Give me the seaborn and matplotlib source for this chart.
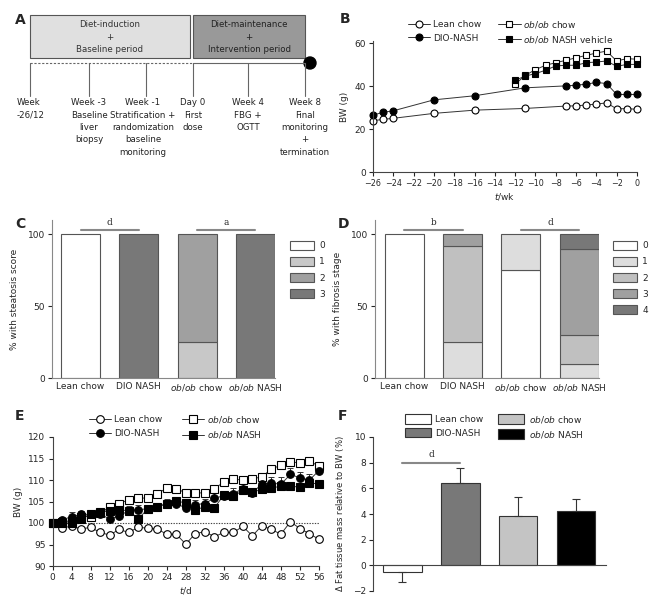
import numpy as np
import pandas as pd
import seaborn as sns
import matplotlib.pyplot as plt
from matplotlib.patches import Rectangle, Circle, Patch
from matplotlib.lines import Line2D

# ---- panel B: body weight during diet induction (g) ----
wk_all = [-26, -25, -24, -20, -16, -11, -7, -6, -5, -4, -3, -2, -1, 0]
bw_lean_b = [23.9, 24.5, 25.0, 27.3, 28.8, 29.6, 30.7, 30.8, 31.2, 31.6, 32.2, 29.4, 29.5, 29.2]
bw_dio_b = [26.5, 27.8, 28.5, 33.6, 35.5, 39.2, 40.1, 40.4, 40.9, 41.7, 41.2, 36.1, 36.1, 36.1]
wk_ob = [-12, -11, -10, -9, -8, -7, -6, -5, -4, -3, -2, -1, 0]
bw_obchow_b = [40.9, 45.0, 47.7, 49.7, 50.9, 52.0, 53.2, 54.3, 55.4, 56.3, 51.7, 52.8, 52.5]
bw_obnash_b = [42.7, 44.7, 45.8, 47.4, 49.4, 49.7, 49.7, 50.9, 51.2, 51.7, 49.2, 50.1, 50.1]

# ---- panels C / D: histology scores (% of animals) ----
groups = ["Lean chow", "DIO NASH", "ob/ob chow", "ob/ob NASH"]
group_labels = ["Lean chow", "DIO NASH", r"$\mathit{ob/ob}$ chow", r"$\mathit{ob/ob}$ NASH"]
steat_0 = [100, 0, 0, 0]
steat_1 = [0, 0, 25, 0]
steat_2 = [0, 0, 75, 0]
steat_3 = [0, 100, 0, 100]
fib_0 = [100, 0, 75, 0]
fib_1 = [0, 25, 25, 10]
fib_2 = [0, 66.7, 0, 20]
fib_3 = [0, 8.3, 0, 60]
fib_4 = [0, 0, 0, 10]

# ---- panel E: relative body weight during intervention (% of day 0) ----
days = list(range(0, 57, 2))
rel_lean = [100, 98.8, 99.3, 98.6, 99.0, 97.8, 97.2, 98.5, 97.8, 99.0, 98.8, 98.6, 97.4, 97.4, 95.1,
            97.5, 98.0, 96.8, 97.8, 97.8, 99.2, 97.0, 99.4, 98.5, 97.4, 100.3, 98.7, 97.5, 96.2]
rel_obchow = [100, 100.3, 100.5, 101.5, 101.5, 102.3, 103.7, 104.5, 105.4, 105.8, 105.8, 106.8, 108.1, 108.0, 107.0,
              107.0, 107.0, 108.0, 109.5, 110.3, 109.9, 110.3, 110.7, 112.6, 113.4, 114.2, 114.0, 114.4, 113.2]
err_obchow = [0.3, 0.5, 0.6, 0.6, 0.5, 0.6, 0.6, 0.6, 0.7, 0.7, 0.7, 0.6, 0.7, 0.6, 0.6,
              0.6, 0.6, 0.7, 0.7, 0.6, 0.6, 0.6, 0.7, 0.6, 0.7, 0.8, 0.8, 0.9, 1.0]
rel_dio = [100, 100.7, 101.5, 102.0, 102.0, 102.0, 101.0, 101.6, 102.9, 103.1, 103.3, 103.8, 104.5, 104.5, 103.5,
           104.3, 104.5, 105.8, 106.3, 106.8, 108.0, 107.0, 109.1, 109.3, 109.0, 111.3, 110.5, 110.0, 112.2]
err_dio = [0.3, 0.8, 1.0, 0.9, 0.8, 0.9, 0.9, 0.9, 1.0, 1.0, 1.0, 0.9, 1.0, 0.9, 1.0,
           1.0, 1.1, 1.2, 1.2, 1.3, 1.3, 1.2, 1.4, 1.5, 1.6, 1.5, 1.4, 1.5, 1.6]
rel_obnash = [100, 100.0, 100.0, 101.0, 102.1, 102.6, 102.8, 103.0, 102.9, 101.0, 103.2, 103.7, 104.5, 105.2, 104.6,
              103.0, 103.8, 103.5, 106.5, 106.2, 107.6, 107.2, 107.8, 108.2, 108.5, 108.6, 108.3, 109.3, 109.1]
err_obnash = [0.3, 0.6, 0.7, 0.7, 0.6, 0.6, 0.6, 0.7, 0.7, 0.8, 0.7, 0.7, 0.8, 0.7, 0.8,
              0.8, 0.8, 0.8, 0.8, 0.8, 0.8, 0.8, 0.8, 0.9, 0.9, 0.9, 0.9, 0.9, 1.0]

# ---- panel F: change in fat mass relative to BW (%) ----
fat_mean = [-0.55, 6.45, 3.85, 4.2]
fat_sem = [0.75, 1.15, 1.5, 0.95]
fat_colors = ["white", "#787878", "#c4c4c4", "black"]

# ---- panel A: study timeline ----
tl_pos = [30, 89, 146, 193, 248, 305]
tl_text = ["Week\n-26/12", "Week -3\nBaseline\nliver\nbiopsy",
           "Week -1\nStratification +\nrandomization\nbaseline\nmonitoring",
           "Day 0\nFirst\ndose", "Week 4\nFBG +\nOGTT",
           "Week 8\nFinal\nmonitoring\n+\ntermination"]

sns.set_style("ticks")
plt.rcParams["font.family"] = ["DejaVu Sans"]
plt.rcParams["font.size"] = 6.5
plt.rcParams["axes.linewidth"] = 0.8
plt.rcParams["axes.edgecolor"] = "#444444"
plt.rcParams["xtick.major.size"] = 3
plt.rcParams["ytick.major.size"] = 3
plt.rcParams["xtick.major.width"] = 0.8
plt.rcParams["ytick.major.width"] = 0.8
plt.rcParams["xtick.labelsize"] = 6.5
plt.rcParams["ytick.labelsize"] = 6.5
plt.rcParams["xtick.major.pad"] = 2
plt.rcParams["ytick.major.pad"] = 2

W, H = 657, 600
fig = plt.figure(figsize=(W / 100, H / 100), dpi=100)


def px_axes(left, top, right, bottom):
    return fig.add_axes([left / W, 1 - bottom / H, (right - left) / W, (bottom - top) / H])


def panel_letter(x, y, s):
    fig.text(x / W, 1 - y / H, s, fontsize=10, fontweight="bold", va="center", ha="left")


# ================= A =================
axA = px_axes(0, 0, 330, 190)
axA.set_xlim(0, 330)
axA.set_ylim(190, 0)
axA.axis("off")
axA.add_patch(Rectangle((30, 15), 160, 43, facecolor="#e0e0e0", edgecolor="#555555", lw=0.8))
axA.add_patch(Rectangle((193, 15), 112, 43, facecolor="#999999", edgecolor="#555555", lw=0.8))
axA.text(110, 37, "Diet-induction\n+\nBaseline period", ha="center", va="center", linespacing=1.55,
         color="#333333", fontsize=6.2)
axA.text(249, 37, "Diet-maintenance\n+\nIntervention period", ha="center", va="center", linespacing=1.55,
         color="#222222", fontsize=6.2)
axA.plot([30, 193], [63, 63], ls=(0, (2, 1.5)), color="#666666", lw=0.8)
axA.plot([193, 305], [63, 63], color="#666666", lw=0.8)
axA.add_patch(Circle((310, 63), 6, color="black"))
for xp in tl_pos:
    axA.plot([xp, xp], [63, 96], color="#666666", lw=0.8)
for i, (xp, t) in enumerate(zip(tl_pos, tl_text)):
    if i == 0:
        axA.text(17, 98, t, ha="left", va="top", linespacing=1.5, color="#222222", fontsize=6.2)
    else:
        axA.text(xp - 3 if i == 2 else xp, 98, t, ha="center", va="top", linespacing=1.5,
                 color="#222222", fontsize=6.2)
panel_letter(15, 20, "A")

# ================= B =================
axB = px_axes(373, 41, 637, 172)
line_kw = dict(color="#333333", lw=0.7, markersize=5, markeredgecolor="black", markeredgewidth=0.8)
sns.lineplot(x=wk_all, y=bw_lean_b, ax=axB, marker="o", markerfacecolor="white", clip_on=False, **line_kw)
sns.lineplot(x=wk_all, y=bw_dio_b, ax=axB, marker="o", markerfacecolor="black", clip_on=False, **line_kw)
sns.lineplot(x=wk_ob, y=bw_obchow_b, ax=axB, marker="s", markerfacecolor="white", clip_on=False, **line_kw)
sns.lineplot(x=wk_ob, y=bw_obnash_b, ax=axB, marker="s", markerfacecolor="black", clip_on=False, **line_kw)
axB.set_xlim(-26, 0)
axB.set_ylim(0, 61)
axB.set_xticks(range(-26, 1, 2))
axB.set_yticks([0, 20, 40, 60])
axB.tick_params(axis="x", labelsize=5.8)
axB.set_ylabel("BW (g)", labelpad=4)
axB.set_xlabel(r"$\mathit{t}$/wk", labelpad=2)
sns.despine(ax=axB)
hB = [Line2D([], [], marker=m, mfc=f, **line_kw)
      for m, f in [("o", "white"), ("o", "black"), ("s", "white"), ("s", "black")]]
lB = ["Lean chow", "DIO-NASH", r"$\mathit{ob/ob}$ chow", r"$\mathit{ob/ob}$ NASH vehicle"]
axB.legend(hB, lB, ncol=2, loc="upper left", bbox_to_anchor=(403 / W, 1 - 14 / H),
           bbox_transform=fig.transFigure, frameon=False, borderpad=0, handlelength=2.5,
           handletextpad=0.3, columnspacing=1.9, labelspacing=0.5)
panel_letter(340, 19, "B")


# ================= C / D =================
def stacked(ax, layers, colors, letters):
    bottom = np.zeros(len(groups))
    xs = np.arange(len(groups))
    for vals, col in zip(layers, colors):
        vals = np.array(vals, dtype=float)
        keep = vals > 0
        ax.bar(xs[keep], vals[keep], bottom=bottom[keep], width=0.67, color=col,
               edgecolor="#555555", linewidth=0.8)
        bottom += vals
    ax.set_xlim(-0.49, 3.335)
    ax.set_ylim(0, 110)
    ax.set_yticks([0, 50, 100])
    ax.set_xticks(xs)
    ax.set_xticklabels(group_labels)
    ax.tick_params(axis="x", length=0, pad=3)
    for (a, b), s in zip([(0, 1), (2, 3)], letters):
        ax.plot([a, b], [103, 103], color="#888888", lw=1.5, clip_on=False)
        ax.text((a + b) / 2, 105, s, ha="center", va="bottom", fontsize=6.5, family="DejaVu Serif")
    sns.despine(ax=ax)
    for sp in ["left", "bottom"]:
        ax.spines[sp].set_color("#888888")


steat_colors = ["white", "#c8c8c8", "#a0a0a0", "#787878"]
axC = px_axes(52, 220, 275, 378)
stacked(axC, [steat_0, steat_1, steat_2, steat_3], steat_colors, ["d", "a"])
axC.set_ylabel("% with steatosis score", labelpad=6)
hC = [Patch(facecolor=c, edgecolor="#555555", lw=0.8) for c in steat_colors]
axC.legend(hC, ["0", "1", "2", "3"], loc="upper left", bbox_to_anchor=(285 / W, 1 - 236 / H),
           bbox_transform=fig.transFigure, frameon=False, borderpad=0, handlelength=2.7,
           handleheight=1.2, handletextpad=0.6, labelspacing=0.72)
panel_letter(15, 224, "C")

fib_colors = ["white", "#dddddd", "#c0c0c0", "#a0a0a0", "#787878"]
axD = px_axes(375, 220, 599, 378)
stacked(axD, [fib_0, fib_1, fib_2, fib_3, fib_4], fib_colors, ["b", "d"])
axD.set_xlim(-0.5, 3.34)
axD.set_ylabel("% with fibrosis stage", labelpad=6)
hD = [Patch(facecolor=c, edgecolor="#555555", lw=0.8) for c in fib_colors]
axD.legend(hD, ["0", "1", "2", "3", "4"], loc="upper left", bbox_to_anchor=(608 / W, 1 - 236 / H),
           bbox_transform=fig.transFigure, frameon=False, borderpad=0, handlelength=2.7,
           handleheight=1.2, handletextpad=0.6, labelspacing=0.72)
panel_letter(338, 224, "D")

# ================= E =================
axE = px_axes(52.5, 437, 319, 566)
axE.axhline(100, color="#444444", lw=0.8, ls=(0, (1.2, 1.2)))
ekw = dict(fmt="none", ecolor="#333333", elinewidth=0.7, capsize=2, capthick=0.7)
axE.errorbar(days, rel_obchow, yerr=[np.zeros(len(days)), err_obchow], **ekw)
axE.errorbar(days, rel_dio, yerr=[np.zeros(len(days)), err_dio], **ekw)
axE.errorbar(days, rel_obnash, yerr=[np.zeros(len(days)), err_obnash], **ekw)
eline = dict(color="#333333", lw=0.7, markersize=5.5, markeredgecolor="black", markeredgewidth=0.8)
sns.lineplot(x=days, y=rel_lean, ax=axE, marker="o", markerfacecolor="white", clip_on=False, **eline)
sns.lineplot(x=days, y=rel_obchow, ax=axE, marker="s", markerfacecolor="white", clip_on=False, **eline)
sns.lineplot(x=days, y=rel_dio, ax=axE, marker="o", markerfacecolor="black", clip_on=False, **eline)
sns.lineplot(x=days, y=rel_obnash, ax=axE, marker="s", markerfacecolor="black", clip_on=False, **eline)
axE.set_xlim(0, 56)
axE.set_ylim(90, 120)
axE.set_xticks(range(0, 57, 4))
axE.set_yticks(range(90, 121, 5))
axE.set_ylabel("BW (g)", labelpad=4)
axE.set_xlabel(r"$\mathit{t}$/d", labelpad=2)
sns.despine(ax=axE)
hE = [Line2D([], [], marker=m, mfc=f, **eline)
      for m, f in [("o", "white"), ("o", "black"), ("s", "white"), ("s", "black")]]
lE = ["Lean chow", "DIO-NASH", r"$\mathit{ob/ob}$ chow", r"$\mathit{ob/ob}$ NASH"]
axE.legend(hE, lE, ncol=2, loc="upper left", bbox_to_anchor=(84 / W, 1 - 409 / H),
           bbox_transform=fig.transFigure, frameon=False, borderpad=0, handlelength=2.5,
           handletextpad=0.3, columnspacing=2.2, labelspacing=0.55)
panel_letter(15, 416, "E")

# ================= F =================
axF = px_axes(373, 437, 606, 591)
dfF = pd.DataFrame({"group": groups, "fat": fat_mean})
sns.barplot(data=dfF, x="group", y="fat", hue="group", palette=fat_colors, ax=axF, width=0.667,
            edgecolor="#333333", linewidth=0.8, legend=False, errorbar=None)
err_lo = [s if m < 0 else 0 for m, s in zip(fat_mean, fat_sem)]
err_hi = [0 if m < 0 else s for m, s in zip(fat_mean, fat_sem)]
axF.errorbar(range(4), fat_mean, yerr=[err_lo, err_hi], fmt="none", ecolor="#333333",
             elinewidth=0.8, capsize=3, capthick=0.8)
axF.set_xlim(-0.51, 3.52)
axF.set_ylim(-2, 10)
axF.set_yticks(range(-2, 11, 2))
axF.set_xticks([])
axF.set_xlabel("")
axF.set_ylabel(r"$\Delta$ Fat tissue mass relative to BW (%)", labelpad=5, fontsize=6.1)
sns.despine(ax=axF)
axF.spines["bottom"].set_position(("data", 0))
axF.plot([0, 1], [8, 8], color="#888888", lw=1.5)
axF.text(0.5, 8.25, "d", ha="center", va="bottom", fontsize=6.5, family="DejaVu Serif")
hF = [Patch(facecolor=c, edgecolor="#333333", lw=0.8) for c in fat_colors]
lF = ["Lean chow", "DIO-NASH", r"$\mathit{ob/ob}$ chow", r"$\mathit{ob/ob}$ NASH"]
axF.legend(hF, lF, ncol=2, loc="upper left", bbox_to_anchor=(400 / W, 1 - 409 / H),
           bbox_transform=fig.transFigure, frameon=False, borderpad=0, handlelength=2.9,
           handleheight=1.2, handletextpad=0.5, columnspacing=1.6, labelspacing=0.45)
panel_letter(338, 416, "F")

fig.savefig("out.png", dpi=100)
